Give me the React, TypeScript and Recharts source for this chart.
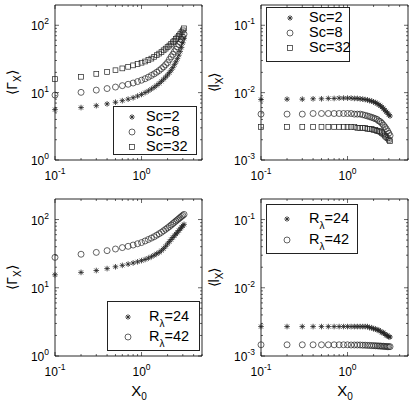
import React from "react";
import { ScatterChart, Scatter, XAxis, YAxis, ReferenceArea, Legend } from "recharts";

// separation X0 (same grid for every panel)
const X0 = [
  0.1, 0.2, 0.3, 0.4, 0.5, 0.6, 0.7, 0.8, 0.9, 1.0, 1.1, 1.2, 1.3, 1.4, 1.5, 1.6,
  1.7, 1.8, 1.9, 2.0, 2.1, 2.2, 2.3, 2.4, 2.5, 2.6, 2.7, 2.8, 2.9, 3.0, 3.1,
];

// <Gamma_X> for Sc = 2, 8, 32
const gammaSc2 = [5.6, 6.0, 6.4, 6.8, 7.2, 7.6, 8.0, 8.4, 8.9, 9.4, 10.0, 10.6, 11.3, 12.0, 12.8, 13.7, 14.7, 15.8, 17.0, 18.3, 19.8, 21.5, 23.5, 26, 28.7, 32, 36, 41, 47, 55, 64];
const gammaSc8 = [9.2, 10.1, 10.9, 11.5, 12.1, 12.7, 13.3, 13.9, 14.6, 15.3, 16.1, 17.0, 18.0, 19.0, 20.1, 21.3, 22.7, 24.2, 26, 28, 31, 34, 37, 40.5, 44, 48, 52, 56, 61, 67, 74];
const gammaSc32 = [15.9, 17.2, 19.0, 20.3, 21.5, 22.9, 24.2, 25.4, 26.6, 27.8, 29, 30.5, 32, 34, 36, 38, 40, 42.5, 45, 47.5, 50, 53, 56, 59, 62.5, 66, 70, 74, 79, 84, 90];

// <l_X> for Sc = 2, 8, 32
const lSc2 = [0.0079, 0.008, 0.008, 0.0081, 0.0081, 0.0082, 0.0082, 0.0083, 0.0083, 0.0083, 0.0083, 0.0082, 0.0082, 0.0081, 0.008, 0.0079, 0.0078, 0.0076, 0.0075, 0.0073, 0.0071, 0.0069, 0.0066, 0.0064, 0.0061, 0.0058, 0.0055, 0.0052, 0.005, 0.0047, 0.0045];
const lSc8 = [0.0048, 0.0048, 0.0048, 0.0049, 0.0049, 0.0049, 0.0049, 0.0049, 0.0049, 0.0049, 0.0049, 0.0048, 0.0048, 0.0048, 0.0047, 0.0046, 0.0045, 0.0044, 0.0043, 0.0042, 0.0041, 0.004, 0.0038, 0.0037, 0.0035, 0.0033, 0.0031, 0.0029, 0.0027, 0.0025, 0.0023];
const lSc32 = [0.0031, 0.0031, 0.0031, 0.0031, 0.0031, 0.0031, 0.0031, 0.0031, 0.0031, 0.0031, 0.0031, 0.0031, 0.003, 0.003, 0.003, 0.003, 0.0029, 0.0029, 0.0029, 0.0028, 0.0028, 0.0027, 0.0027, 0.0026, 0.0025, 0.0024, 0.0023, 0.0022, 0.0021, 0.002, 0.0019];

// <Gamma_X> for R_lambda = 24, 42
const gammaR24 = [15.5, 16.8, 17.9, 19.1, 20.3, 21.3, 22.2, 23.1, 24, 25, 26, 27.2, 28.5, 30, 31.5, 33, 35, 37.5, 40.5, 44, 47.5, 51, 54.5, 58, 61.5, 65, 69, 73, 77, 81, 85];
const gammaR42 = [27.9, 31, 33, 35, 37, 38.8, 40.5, 42.3, 44.2, 46, 48.5, 51, 53.5, 56, 59, 62, 65, 68.5, 72, 75.5, 79, 83, 87, 91, 95, 99, 103, 107, 111, 115, 119];

// <l_X> for R_lambda = 24, 42
const lR24 = [0.0027, 0.0027, 0.0027, 0.0027, 0.0027, 0.0027, 0.0027, 0.0027, 0.0027, 0.0027, 0.0027, 0.0027, 0.0027, 0.0027, 0.0027, 0.0027, 0.0027, 0.0026, 0.0026, 0.0025, 0.0025, 0.0024, 0.0024, 0.0023, 0.0022, 0.0022, 0.0021, 0.002, 0.002, 0.0019, 0.0019];
const lR42 = [0.00146, 0.00146, 0.00146, 0.00146, 0.00146, 0.00146, 0.00146, 0.00146, 0.00146, 0.00146, 0.00145, 0.00145, 0.00145, 0.00145, 0.00144, 0.00144, 0.00143, 0.00143, 0.00142, 0.00142, 0.00141, 0.00141, 0.0014, 0.0014, 0.00139, 0.00139, 0.00138, 0.00138, 0.00137, 0.00137, 0.00137];

// axis ticks (majors get a 10^n label, the rest are minor ticks)
const X_TICKS = [0.1, 0.2, 0.3, 0.4, 0.5, 0.6, 0.7, 0.8, 0.9, 1, 2, 3, 4, 5];
const GAMMA_TICKS = [1, 2, 3, 4, 5, 6, 7, 8, 9, 10, 20, 30, 40, 50, 60, 70, 80, 90, 100];
const L_TICKS = [0.001, 0.002, 0.003, 0.004, 0.005, 0.006, 0.007, 0.008, 0.009, 0.01, 0.02, 0.03, 0.04, 0.05, 0.06, 0.07, 0.08, 0.09, 0.1];

const FONT = "'Liberation Sans', Arial, Helvetica, sans-serif";
const INK = "#000";
const PLOT_L = 55;
const PLOT_R = 202;

type Mark = "star" | "circle" | "square";

function Marker({ cx, cy, mark }: { cx: number; cy: number; mark: Mark }) {
  if (mark === "circle") {
    return <circle cx={cx} cy={cy} r={3} fill="none" stroke="#222" strokeWidth={0.7} />;
  }
  if (mark === "square") {
    return <rect x={cx - 2.4} y={cy - 2.4} width={4.8} height={4.8} fill="none" stroke="#222" strokeWidth={0.7} />;
  }
  const a = 2.8;
  const d = 2;
  return (
    <g stroke="#222" strokeWidth={0.8}>
      <line x1={cx - a} y1={cy} x2={cx + a} y2={cy} />
      <line x1={cx} y1={cy - a} x2={cx} y2={cy + a} />
      <line x1={cx - d} y1={cy - d} x2={cx + d} y2={cy + d} />
      <line x1={cx - d} y1={cy + d} x2={cx + d} y2={cy - d} />
    </g>
  );
}

function decade(v: number) {
  const e = Math.round(Math.log10(v));
  return Math.abs(Math.log10(v) - e) < 1e-6 ? e : null;
}

function XTick(props: any) {
  const { x, payload, top, bottom } = props;
  const e = decade(payload.value);
  const len = e === null ? 2 : 4;
  return (
    <g>
      <line x1={x} x2={x} y1={bottom} y2={bottom - len} stroke={INK} strokeWidth={0.6} />
      <line x1={x} x2={x} y1={top} y2={top + len} stroke={INK} strokeWidth={0.6} />
      {e !== null && (
        <text x={x} y={bottom + 20} textAnchor="middle" fontSize={12} fontFamily={FONT} fill={INK}>
          10<tspan dy={-6} fontSize={8.5}>{e}</tspan>
        </text>
      )}
    </g>
  );
}

function YTick(props: any) {
  const { y, payload } = props;
  const e = decade(payload.value);
  const len = e === null ? 2 : 4;
  return (
    <g>
      <line x1={PLOT_L} x2={PLOT_L + len} y1={y} y2={y} stroke={INK} strokeWidth={0.6} />
      <line x1={PLOT_R} x2={PLOT_R - len} y1={y} y2={y} stroke={INK} strokeWidth={0.6} />
      {e !== null && (
        <text x={PLOT_L - 6} y={y + 5} textAnchor="end" fontSize={12} fontFamily={FONT} fill={INK}>
          10<tspan dy={-6} fontSize={8.5}>{e}</tspan>
        </text>
      )}
    </g>
  );
}

interface Series {
  name: string;
  values: number[];
  mark: Mark;
  sub?: boolean;
}

interface LegendCfg {
  left: number;
  top: number;
  width: number;
  height: number;
  markX: number;
  textX: number;
  rowH: number;
  firstY: number;
}

function LegendBox({ cfg, series }: { cfg: LegendCfg; series: Series[] }) {
  return (
    <div
      style={{
        position: "relative",
        boxSizing: "border-box",
        width: cfg.width,
        height: cfg.height,
        border: "1px solid #222",
        background: "#fff",
        fontFamily: FONT,
        fontSize: 14.5,
        color: INK,
      }}
    >
      {series.map((s, i) => {
        const cy = cfg.firstY + i * cfg.rowH;
        return (
          <div key={s.name} style={{ position: "absolute", left: 0, top: cy - 8, height: 16, width: "100%" }}>
            <svg width={12} height={12} style={{ position: "absolute", left: cfg.markX - 6, top: 2 }}>
              <Marker cx={6} cy={6} mark={s.mark} />
            </svg>
            <span style={{ position: "absolute", left: cfg.textX, top: -1, lineHeight: "16px", whiteSpace: "nowrap" }}>
              {s.sub ? (
                <>
                  R<span style={{ fontSize: 10, position: "relative", top: 6 }}>λ</span>
                  {s.name.replace("Rλ", "")}
                </>
              ) : (
                s.name
              )}
            </span>
          </div>
        );
      })}
    </div>
  );
}

interface PanelProps {
  left: number;
  top: number;
  height: number;
  xAxisH: number;
  yDomain: [number, number];
  yTicks: number[];
  ySym: string;
  yLabelX: number;
  showX0: boolean;
  series: Series[];
  legend: LegendCfg;
}

function Panel(p: PanelProps) {
  const plotTop = 5;
  const plotBottom = p.height - p.xAxisH;
  const data = X0.map((x, i) => {
    const row: Record<string, number> = { x };
    p.series.forEach((s) => {
      row[s.name] = s.values[i];
    });
    return row;
  });
  const midY = (plotTop + plotBottom) / 2;
  return (
    <div style={{ position: "absolute", left: p.left, top: p.top }}>
      <ScatterChart width={206} height={p.height} data={data} margin={{ top: plotTop, right: 206 - PLOT_R, bottom: 0, left: 0 }}>
        <XAxis
          dataKey="x"
          type="number"
          scale="log"
          domain={[0.1, 5]}
          ticks={X_TICKS}
          interval={0}
          height={p.xAxisH}
          axisLine={false}
          tickLine={false}
          tick={(t: any) => <XTick {...t} top={plotTop} bottom={plotBottom} />}
          label={() =>
            p.showX0 ? (
              <text x={139} y={plotBottom + 40} textAnchor="middle" fontSize={15} fontFamily={FONT} fill={INK}>
                X<tspan dy={4} fontSize={10}>0</tspan>
              </text>
            ) : null
          }
        />
        <YAxis
          type="number"
          scale="log"
          domain={p.yDomain}
          ticks={p.yTicks}
          interval={0}
          width={PLOT_L}
          axisLine={false}
          tickLine={false}
          allowDataOverflow
          tick={(t: any) => <YTick {...t} />}
          label={() => (
            <text
              x={p.yLabelX}
              y={midY}
              transform={`rotate(-90 ${p.yLabelX} ${midY})`}
              textAnchor="middle"
              fontSize={14}
              fontFamily={FONT}
              fill={INK}
            >
              {"⟨" + p.ySym}
              <tspan dy={4} fontSize={10}>X</tspan>
              <tspan dy={-4}>⟩</tspan>
            </text>
          )}
        />
        <ReferenceArea
          x1={0.1}
          x2={5}
          y1={p.yDomain[0]}
          y2={p.yDomain[1]}
          fill="none"
          fillOpacity={0}
          stroke="#111"
          strokeWidth={0.9}
          ifOverflow="visible"
        />
        {p.series.map((s) => (
          <Scatter
            key={s.name}
            name={s.name}
            dataKey={s.name}
            isAnimationActive={false}
            shape={(sp: any) => <Marker cx={sp.cx} cy={sp.cy} mark={s.mark} />}
          />
        ))}
        <Legend
          layout="horizontal"
          verticalAlign="middle"
          align="center"
          wrapperStyle={{ left: p.legend.left, top: p.legend.top, width: p.legend.width, height: p.legend.height }}
          content={() => <LegendBox cfg={p.legend} series={p.series} />}
        />
      </ScatterChart>
    </div>
  );
}

const scSeriesG: Series[] = [
  { name: "Sc=2", values: gammaSc2, mark: "star" },
  { name: "Sc=8", values: gammaSc8, mark: "circle" },
  { name: "Sc=32", values: gammaSc32, mark: "square" },
];
const scSeriesL: Series[] = [
  { name: "Sc=2", values: lSc2, mark: "star" },
  { name: "Sc=8", values: lSc8, mark: "circle" },
  { name: "Sc=32", values: lSc32, mark: "square" },
];
const rSeriesG: Series[] = [
  { name: "Rλ=24", values: gammaR24, mark: "star", sub: true },
  { name: "Rλ=42", values: gammaR42, mark: "circle", sub: true },
];
const rSeriesL: Series[] = [
  { name: "Rλ=24", values: lR24, mark: "star", sub: true },
  { name: "Rλ=42", values: lR42, mark: "circle", sub: true },
];

export default function App() {
  return (
    <div style={{ position: "absolute", left: 0, top: 0, width: 412, height: 402, background: "#fff", overflow: "hidden" }}>
      <Panel
        left={0}
        top={0}
        height={200}
        xAxisH={40}
        yDomain={[1, 200]}
        yTicks={GAMMA_TICKS}
        ySym="Γ"
        yLabelX={17}
        showX0={false}
        series={scSeriesG}
        legend={{ left: 113, top: 106, width: 84, height: 49, markX: 18, textX: 32, rowH: 15, firstY: 10 }}
      />
      <Panel
        left={206}
        top={0}
        height={200}
        xAxisH={40}
        yDomain={[0.001, 0.2]}
        yTicks={L_TICKS}
        ySym="l"
        yLabelX={13}
        showX0={false}
        series={scSeriesL}
        legend={{ left: 60, top: 7, width: 84, height: 55, markX: 23, textX: 42, rowH: 15, firstY: 10 }}
      />
      <Panel
        left={0}
        top={194}
        height={208}
        xAxisH={46}
        yDomain={[1, 200]}
        yTicks={GAMMA_TICKS}
        ySym="Γ"
        yLabelX={17}
        showX0={true}
        series={rSeriesG}
        legend={{ left: 107, top: 107, width: 93, height: 50, markX: 20, textX: 41, rowH: 20, firstY: 15 }}
      />
      <Panel
        left={206}
        top={194}
        height={208}
        xAxisH={46}
        yDomain={[0.001, 0.2]}
        yTicks={L_TICKS}
        ySym="l"
        yLabelX={13}
        showX0={true}
        series={rSeriesL}
        legend={{ left: 60, top: 10, width: 92, height: 50, markX: 20, textX: 42, rowH: 21, firstY: 14 }}
      />
    </div>
  );
}
